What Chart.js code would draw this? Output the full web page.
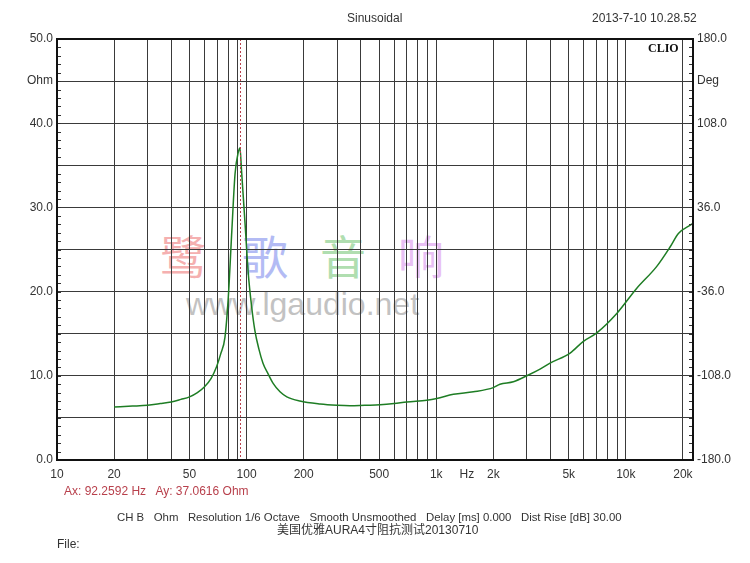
<!doctype html>
<html lang="zh">
<head>
<meta charset="UTF-8">
<title>AURA 4寸 阻抗曲线</title>
<script src="https://cdn.jsdelivr.net/npm/chart.js@4.4.0/dist/chart.umd.min.js"></script>
<style>
  body { margin: 0; background: #fff; }
  #wrap { position: relative; width: 750px; height: 563px; overflow: hidden; font-family: "Liberation Sans", Arial, sans-serif; color: #333; }
  #wrap canvas { position: absolute; left: 0; top: 0; z-index: 2; }
  .t { position: absolute; font-size: 12px; white-space: pre; line-height: 14px; z-index: 3; }
  .wm { position: absolute; z-index: 1; white-space: pre; }
  .cjk { font-family: "Noto Sans CJK SC", sans-serif; font-size: 46px; line-height: 52px; }
</style>
</head>
<body>
<div id="wrap">
  <div class="wm cjk" style="left:160px;top:228px;color:#f5b0b0">鹭</div>
  <div class="wm cjk" style="left:242px;top:228px;color:#b3bbf4">歌</div>
  <div class="wm cjk" style="left:320px;top:228px;color:#b0deb0">音</div>
  <div class="wm cjk" style="left:398px;top:228px;color:#e8c0f4">响</div>
  <div class="wm" style="left:186px;top:286px;font-size:32px;line-height:36px;color:#c2c2c2">www.lgaudio.net</div>

  <div class="t" style="left:347px;top:11px">Sinusoidal</div>
  <div class="t" style="left:592px;top:11px">2013-7-10 10.28.52</div>
  <div class="t" style="left:648px;top:41px;font-family:'Liberation Serif','DejaVu Serif',serif;font-weight:bold;color:#111">CLIO</div>
  <div class="t" id="cursorText" style="left:64px;top:484px;color:#b8404c"></div>
  <div class="t" style="left:117px;top:510px;font-size:11.4px">CH B   Ohm   Resolution 1/6 Octave   Smooth Unsmoothed   Delay [ms] 0.000   Dist Rise [dB] 30.00</div>
  <div class="t" style="left:277px;top:523px;font-family:'Liberation Sans','Noto Sans CJK SC',sans-serif">美国优雅AURA4寸阻抗测试20130710</div>
  <div class="t" style="left:57px;top:537px">File:</div>
  <canvas id="c" width="750" height="563"></canvas>
</div>
<script>
// impedance sweep
const freqHz = [20, 25, 30, 35, 40, 45, 50, 55, 60, 65, 69.5, 73, 76.9, 80.1, 83.6, 86.9, 90.3, 92.26,
  94.0, 98.1, 102, 106.3, 110.5, 116, 122, 130, 138, 150, 163, 191, 244, 300, 351, 420, 505, 600, 699,
  891, 1006, 1232, 1570, 2000, 2168, 2552, 3061, 3527, 3983, 5081, 5970, 7027, 8955, 11420, 14560,
  17110, 18930, 22270, 22600];
const impedanceOhm = [6.3, 6.4, 6.5, 6.7, 6.9, 7.2, 7.5, 8.0, 8.7, 9.7, 11.1, 12.6, 14.6, 19.4, 27.3, 34.0, 36.5, 37.06,
  34.4, 28.1, 22.2, 18.2, 15.4, 13.2, 11.5, 10.2, 9.1, 8.1, 7.5, 7.0, 6.65, 6.5, 6.45, 6.5, 6.55, 6.7, 6.9,
  7.1, 7.3, 7.8, 8.1, 8.6, 9.0, 9.3, 10.1, 10.8, 11.5, 12.7, 14.1, 15.1, 17.4, 20.4, 23.0,
  25.3, 26.9, 28.0, 28.1];

const cursorHz = 92.2592;
const cursorOhm = 37.0616;

const xGridHz = [10, 20, 30, 40, 50, 60, 70, 80, 90, 100, 200, 300, 400, 500, 600, 700, 800, 900,
  1000, 1450, 2000, 3000, 4000, 5000, 6000, 7000, 8000, 9000, 10000, 20000];
const xLabels = {10: '10', 20: '20', 50: '50', 100: '100', 200: '200', 500: '500', 1000: '1k',
  1450: 'Hz', 2000: '2k', 5000: '5k', 10000: '10k', 20000: '20k'};
const hzLabelPos = 1450;

const ohmMin = 0, ohmMax = 50;
const degMin = -180, degMax = 180;

document.getElementById('cursorText').textContent =
  'Ax: ' + cursorHz.toFixed(4) + ' Hz   Ay: ' + cursorOhm.toFixed(4) + ' Ohm';

const font = { family: "'Liberation Sans', Arial, sans-serif", size: 12 };

// frame, minor ticks and the cursor line
const decor = {
  id: 'decor',
  afterDatasetsDraw(chart) {
    const ctx = chart.ctx, a = chart.chartArea;
    const x = chart.scales.x, y = chart.scales.y;
    ctx.save();
    ctx.strokeStyle = '#b8404c';
    ctx.lineWidth = 1;
    ctx.setLineDash([2, 2]);
    const cx = Math.round(x.getPixelForValue(cursorHz)) + 0.5;
    ctx.beginPath(); ctx.moveTo(cx, a.top); ctx.lineTo(cx, a.bottom); ctx.stroke();
    ctx.setLineDash([]);
    ctx.strokeStyle = '#333';
    for (let v = ohmMin; v <= ohmMax; v++) {
      const py = Math.round(y.getPixelForValue(v)) + 0.5;
      ctx.beginPath();
      ctx.moveTo(a.left, py); ctx.lineTo(a.left + 4, py);
      ctx.moveTo(a.right - 4, py); ctx.lineTo(a.right, py);
      ctx.stroke();
    }
    ctx.strokeStyle = '#111';
    ctx.lineWidth = 2;
    ctx.strokeRect(a.left, a.top, a.right - a.left, a.bottom - a.top);
    ctx.restore();
  }
};

new Chart(document.getElementById('c'), {
  type: 'line',
  data: {
    datasets: [{
      data: freqHz.map((f, i) => ({ x: f, y: impedanceOhm[i] })),
      borderColor: '#1e7d24',
      borderWidth: 1.5,
      pointRadius: 0,
      cubicInterpolationMode: 'monotone',
      yAxisID: 'y'
    }]
  },
  options: {
    responsive: false,
    animation: false,
    layout: { padding: { top: 39, left: 0, right: 0, bottom: 0 } },
    plugins: { legend: { display: false }, tooltip: { enabled: false } },
    scales: {
      x: {
        type: 'logarithmic',
        min: 10, max: 22600,
        afterBuildTicks: s => { s.ticks = xGridHz.map(v => ({ value: v })); },
        afterFit: s => { s.height = 103; },
        ticks: {
          autoSkip: false, maxRotation: 0, padding: 7, color: '#333', font,
          callback: v => xLabels[v] || ''
        },
        grid: {
          drawTicks: false,
          color: c => (c.tick && c.tick.value === hzLabelPos) ? 'rgba(0,0,0,0)' : '#3a3a3a'
        },
        border: { display: false }
      },
      y: {
        position: 'left',
        min: ohmMin, max: ohmMax,
        afterBuildTicks: s => {
          const t = [];
          for (let v = ohmMin; v <= ohmMax; v++) t.push({ value: v });
          s.ticks = t;
        },
        afterFit: s => { s.width = 57; },
        ticks: {
          autoSkip: false, padding: 4, color: '#333', font,
          callback: v => v % 10 === 0 ? v.toFixed(1) : (v === 45 ? 'Ohm' : '')
        },
        grid: {
          drawTicks: false,
          color: c => (c.tick && c.tick.value % 5 === 0) ? '#3a3a3a' : 'rgba(0,0,0,0)'
        },
        border: { display: false }
      },
      y2: {
        position: 'right',
        min: degMin, max: degMax,
        afterBuildTicks: s => {
          const t = [];
          for (let k = 0; k <= 50; k++) t.push({ value: Math.round((degMin + k * 7.2) * 10) / 10 });
          s.ticks = t;
        },
        afterFit: s => { s.width = 57; },
        ticks: {
          autoSkip: false, padding: 4, color: '#333', font,
          callback: (v, i) => i % 10 === 0 ? v.toFixed(1) : (i === 45 ? 'Deg' : '')
        },
        grid: { drawTicks: false, drawOnChartArea: false },
        border: { display: false }
      }
    }
  },
  plugins: [decor]
});
</script>
</body>
</html>
